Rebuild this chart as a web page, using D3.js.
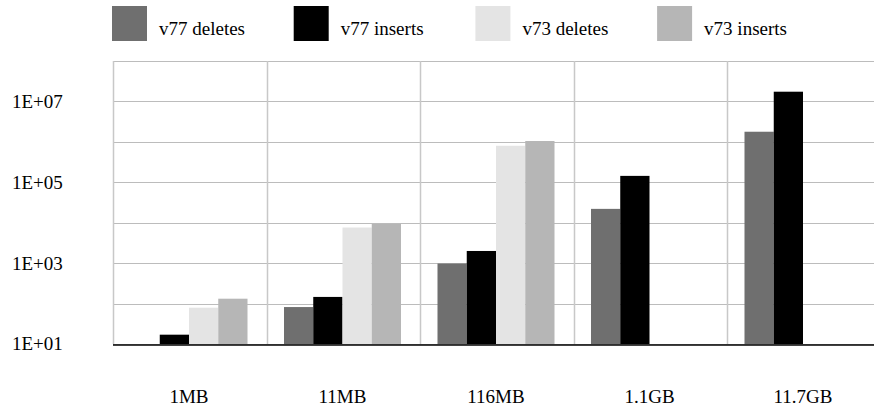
<!DOCTYPE html>
<html><head><meta charset="utf-8">
<script src="https://cdn.jsdelivr.net/npm/d3@7"></script>
<style>
html,body{margin:0;padding:0;background:#fff;overflow:hidden}
</style></head>
<body>
<svg id="c" width="874" height="410"></svg>
<script>
const categories = ["1MB", "11MB", "116MB", "1.1GB", "11.7GB"];
const seriesNames = ["v77 deletes", "v77 inserts", "v73 deletes", "v73 inserts"];
const colors = ["#6f6f6f", "#000000", "#e4e4e4", "#b6b6b6"];
const v77Deletes = [null, 82, 980, 22000, 1780000];
const v77Inserts = [17, 146, 2000, 144000, 17400000];
const v73Deletes = [79, 7600, 800000, null, null];
const v73Inserts = [132, 9300, 1050000, null, null];
const yTicks = [1e1, 1e3, 1e5, 1e7];
const gridTicks = [1e1, 1e2, 1e3, 1e4, 1e5, 1e6, 1e7, 1e8];

const FONT = "'Liberation Serif'";
const series = [v77Deletes, v77Inserts, v73Deletes, v73Inserts];
const svg = d3.select("#c");

const x0 = d3.scaleBand().domain(categories).range([113, 880.5]).padding(0);
const x1 = d3.scaleBand().domain(seriesNames).range([0, 117]).padding(0);
const off = 17.5;
const y = d3.scaleLog().domain([10, 1e8]).range([344, 61]);

// horizontal grid
svg.append("g").selectAll("line").data(gridTicks).join("line")
  .attr("x1", 113).attr("x2", 874)
  .attr("y1", d => Math.round(y(d)) + 0.5).attr("y2", d => Math.round(y(d)) + 0.5)
  .attr("stroke", "#bcbcbc").attr("stroke-width", 1.2);
// vertical grid
svg.append("g").selectAll("line").data(categories).join("line")
  .attr("x1", d => Math.round(x0(d)) + 0.5).attr("x2", d => Math.round(x0(d)) + 0.5)
  .attr("y1", 61).attr("y2", 344)
  .attr("stroke", "#c8c8c8").attr("stroke-width", 1.5);

// bars
const flat = [];
categories.forEach((c, i) => series.forEach((s, j) => {
  if (s[i] != null) flat.push({c, name: seriesNames[j], v: s[i], color: colors[j]});
}));
svg.append("g").selectAll("rect").data(flat).join("rect")
  .attr("x", d => x0(d.c) + off + x1(d.name))
  .attr("width", x1.bandwidth())
  .attr("y", d => y(d.v))
  .attr("height", d => y(10) - y(d.v))
  .attr("fill", d => d.color);

// baseline axis
svg.append("line").attr("x1", 113).attr("x2", 874).attr("y1", 345).attr("y2", 345)
  .attr("stroke", "#000").attr("stroke-width", 1.5);

// y tick labels
svg.append("g").selectAll("text").data(yTicks).join("text")
  .attr("font-family", FONT).attr("font-size", 19)
  .attr("x", 12).attr("y", d => y(d)).attr("dy", "0.34em")
  .text(d => "1E+" + String(Math.round(Math.log10(d))).padStart(2, "0"));

// x labels
svg.append("g").selectAll("text").data(categories).join("text")
  .attr("font-family", FONT).attr("font-size", 19)
  .attr("x", d => x0(d) + off + 58.5).attr("y", 403)
  .attr("text-anchor", "middle").text(d => d);

// legend
const lg = svg.append("g").selectAll("g").data(seriesNames).join("g")
  .attr("transform", (d, i) => `translate(${112 + i * 181.7},6)`);
lg.append("rect").attr("width", 35).attr("height", 35).attr("fill", (d, i) => colors[i]);
lg.append("text").attr("font-family", FONT).attr("font-size", 19)
  .attr("x", 47).attr("y", 29).text(d => d);
</script>
</body></html>
